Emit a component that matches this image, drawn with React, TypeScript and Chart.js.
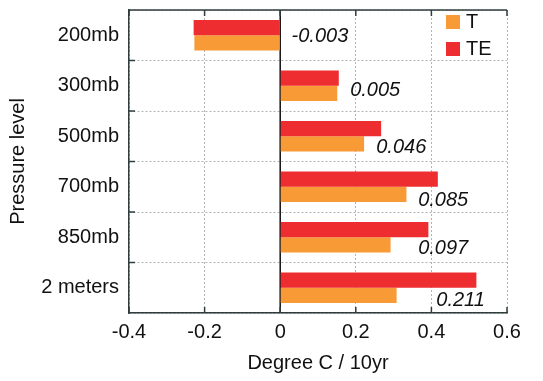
import React, { useEffect, useRef } from "react";
import { Chart, registerables } from "chart.js";

Chart.register(...registerables);

const categories = ["200mb", "300mb", "500mb", "700mb", "850mb", "2 meters"];
const seriesT = [-0.227, 0.151, 0.222, 0.334, 0.292, 0.308];
const seriesTE = [-0.229, 0.155, 0.267, 0.417, 0.392, 0.519];
const trendLabels = ["-0.003", "0.005", "0.046", "0.085", "0.097", "0.211"];
const labelX = [0.03, 0.185, 0.254, 0.365, 0.365, 0.413];
const labelYOffset = [0.02, 0.09, 0.22, 0.27, 0.23, 0.26];
const xTicks = [-0.4, -0.2, 0, 0.2, 0.4, 0.6];

const FONT = "'Liberation Sans', Arial, Helvetica, sans-serif";
const AXIS = "#2f3d3d";
const ORANGE = "#f89a36";
const RED = "#ee2d31";

const decorPlugin = {
  id: "decor",
  beforeDatasetsDraw(chart: any) {
    const { ctx, chartArea: a, scales } = chart;
    const xs = scales.x;
    ctx.save();
    const x0 = xs.getPixelForValue(0);
    ctx.strokeStyle = "#111";
    ctx.lineWidth = 1.5;
    ctx.beginPath();
    ctx.moveTo(x0, a.top);
    ctx.lineTo(x0, a.bottom);
    ctx.stroke();
    ctx.restore();
  },
  afterDatasetsDraw(chart: any) {
    const { ctx, chartArea: a, scales } = chart;
    const xs = scales.x;
    const ys = scales.y;
    ctx.save();
    ctx.strokeStyle = AXIS;
    ctx.lineWidth = 1.5;
    ctx.beginPath();
    ctx.moveTo(a.left, a.top);
    ctx.lineTo(a.right, a.top);
    ctx.stroke();
    xTicks.forEach((v) => {
      const px = xs.getPixelForValue(v);
      ctx.beginPath();
      ctx.moveTo(px, a.top);
      ctx.lineTo(px, a.top + 6);
      ctx.moveTo(px, a.bottom);
      ctx.lineTo(px, a.bottom - 6);
      ctx.stroke();
    });
    for (let i = 0; i < categories.length - 1; i++) {
      const py = (ys.getPixelForValue(i) + ys.getPixelForValue(i + 1)) / 2;
      ctx.beginPath();
      ctx.moveTo(a.left, py);
      ctx.lineTo(a.left + 6, py);
      ctx.stroke();
    }
    ctx.fillStyle = "#111";
    ctx.font = "italic 20px " + FONT;
    ctx.textAlign = "left";
    ctx.textBaseline = "middle";
    trendLabels.forEach((t, i) => {
      const px = xs.getPixelForValue(labelX[i]);
      const py = ys.getPixelForValue(i + labelYOffset[i]);
      ctx.fillText(t, px, py);
    });
    const order = [1, 0];
    ctx.font = "20px " + FONT;
    order.forEach((di, k) => {
      const ds = chart.data.datasets[di];
      const sx = a.right - 61;
      const sy = a.top + 5 + k * 27;
      ctx.fillStyle = ds.backgroundColor;
      ctx.fillRect(sx, sy, 14, 14);
      ctx.fillStyle = "#111";
      ctx.fillText(ds.label, sx + 20, sy + 7);
    });
    ctx.restore();
  },
};

export default function App() {
  const ref = useRef<HTMLCanvasElement>(null);
  useEffect(() => {
    const chart = new Chart(ref.current!, {
      type: "bar",
      data: {
        labels: categories,
        datasets: [
          { label: "TE", data: seriesTE, backgroundColor: RED, borderWidth: 0 },
          { label: "T", data: seriesT, backgroundColor: ORANGE, borderWidth: 0 },
        ],
      },
      options: {
        indexAxis: "y",
        responsive: false,
        animation: false,
        layout: { padding: { left: 0, right: 36, top: 10, bottom: 0 } },
        plugins: { legend: { display: false }, tooltip: { enabled: false } },
        scales: {
          x: {
            min: -0.4,
            max: 0.6,
            afterBuildTicks: (s: any) => {
              s.ticks = xTicks.map((v) => ({ value: v }));
            },
            ticks: {
              color: "#111",
              font: { family: FONT, size: 20 },
              padding: 7,
              callback: (v: any) => String(Math.round(Number(v) * 10) / 10),
              maxRotation: 0,
            },
            grid: { drawTicks: false, color: "#b4b4b4", lineWidth: 1 },
            border: { display: true, color: AXIS, width: 1.5, dash: [2, 2] },
            title: {
              display: true,
              text: "Degree C / 10yr",
              color: "#111",
              font: { family: FONT, size: 20 },
              padding: { top: 0, bottom: 6 },
            },
            afterFit: (s: any) => {
              s.height = 68;
              s.paddingLeft = 0;
              s.paddingRight = 0;
            },
          },
          y: {
            offset: true,
            ticks: { color: "#111", font: { family: FONT, size: 20 }, padding: 10 },
            grid: { drawTicks: false, offset: true, color: "#b4b4b4", lineWidth: 1 },
            border: { display: true, color: AXIS, width: 1.5, dash: [2, 2] },
            title: {
              display: true,
              text: "Pressure level",
              color: "#111",
              font: { family: FONT, size: 20 },
              padding: { top: 6, bottom: 0 },
            },
            afterFit: (s: any) => {
              s.width = 129;
              s.paddingTop = 0;
              s.paddingBottom = 0;
            },
          },
        },
        datasets: { bar: { categoryPercentage: 0.6, barPercentage: 1.0 } },
      } as any,
      plugins: [decorPlugin],
    });
    return () => chart.destroy();
  }, []);
  return (
    <div style={{ position: "fixed", left: 0, top: 0, width: 543, height: 381, background: "#fff" }}>
      <canvas ref={ref} width={543} height={381} style={{ width: 543, height: 381 }} />
    </div>
  );
}
